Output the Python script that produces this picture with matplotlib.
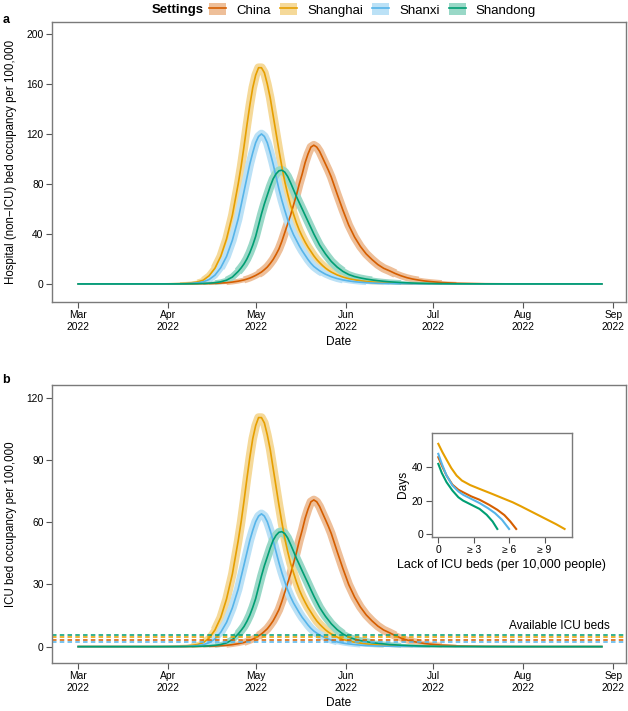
import numpy as np
import matplotlib.pyplot as plt
import matplotlib.dates as mdates
from matplotlib.lines import Line2D
from matplotlib.patches import Patch

plt.rcParams['font.family'] = ['Liberation Sans', 'DejaVu Sans']

# days after 1 Mar 2022
days = [0, 10, 20, 25, 29,
        31, 33, 35, 37, 39, 41, 43, 45, 47, 49, 51, 53, 55,
        56, 57, 58, 59, 60, 61, 62, 63, 64, 65,
        66, 67, 68, 69, 70, 71, 72, 73, 74, 75,
        76, 77, 78, 79, 80, 81, 82, 83, 84, 85, 86,
        87, 89, 91, 93, 95, 97, 99, 101, 103,
        105, 107, 109, 111, 113, 115, 117, 119, 121,
        125, 130, 140, 150, 160, 170, 180]

settings = ['China', 'Shanghai', 'Shanxi', 'Shandong']
colors = ['#D55E00', '#E69F00', '#56B4E9', '#009E73']
band_colors = ['#EEBF99', '#F5D999', '#BBE1F6', '#99D8C7']

# a: hospital (non-ICU) bed occupancy per 100,000
hosp_china = [0, 0, 0, 0, 0,
              0.01, 0.02, 0.03, 0.05, 0.08, 0.12, 0.2, 0.3, 0.45, 0.7, 1.0, 1.5, 2.2,
              2.7, 3.2, 3.9, 4.7, 5.7, 6.8, 8.1, 9.5, 11.4, 13.5,
              16.3, 19.5, 23.5, 28, 34, 41, 48, 55, 63, 71,
              80, 88, 97, 104, 109.5, 111, 109.5, 106, 101, 96, 91,
              85.5, 72, 59, 47, 37.5, 30, 24, 19.5, 15.5,
              12.5, 10.5, 8.3, 6.5, 5.0, 3.9, 3.1, 2.4, 1.9,
              1.1, 0.55, 0.15, 0.04, 0, 0, 0]
hosp_shanghai = [0, 0, 0, 0, 0.05,
                 0.1, 0.2, 0.3, 0.5, 0.9, 1.6, 3.0, 6.5, 12.5, 22, 36, 55, 80,
                 94, 110, 127, 143, 157, 167, 173, 173, 169, 160,
                 149, 135, 121, 107, 94, 82, 72, 63, 56, 49,
                 43, 38, 33.5, 29.5, 26, 22.5, 19.5, 17, 14.7, 12.7, 11,
                 9.5, 7.2, 5.5, 4.2, 3.3, 2.6, 2.0, 1.6, 1.25,
                 1.0, 0.8, 0.6, 0.5, 0.4, 0.3, 0.25, 0.2, 0.15,
                 0.1, 0.05, 0, 0, 0, 0, 0]
hosp_shanxi = [0, 0, 0, 0, 0.03,
               0.06, 0.1, 0.17, 0.28, 0.5, 0.9, 1.7, 3.5, 7, 13, 22, 35, 52,
               63, 74, 85, 96, 105, 113, 118, 120, 118, 113,
               105, 96, 86, 76, 67, 59, 51.5, 45, 39.5, 35,
               30.5, 26.5, 23, 19.5, 16.5, 14, 12.2, 10.5, 9.1, 7.8, 6.8,
               5.8, 4.3, 3.2, 2.4, 1.8, 1.35, 1.0, 0.75, 0.55,
               0.42, 0.32, 0.24, 0.18, 0.14, 0.1, 0.08, 0.06, 0.05,
               0.03, 0.02, 0, 0, 0, 0, 0]
hosp_shandong = [0, 0, 0, 0, 0,
                 0.01, 0.02, 0.04, 0.07, 0.12, 0.2, 0.35, 0.6, 1.0, 1.7, 3.0, 5.5, 10,
                 12.8, 16, 20, 25, 31, 38, 47, 56, 64, 71,
                 78, 84, 88, 90.5, 91, 89.5, 86, 81, 75.5, 70,
                 65, 60, 55, 50, 45, 40, 35.5, 31, 27.5, 24, 21,
                 18, 13.5, 10, 7.5, 5.9, 4.8, 3.9, 3.2, 2.6,
                 2.1, 1.7, 1.4, 1.1, 0.9, 0.7, 0.55, 0.45, 0.35,
                 0.22, 0.12, 0.04, 0, 0, 0, 0]

# b: ICU bed occupancy per 100,000
icu_china = [0, 0, 0, 0, 0,
             0.01, 0.01, 0.02, 0.03, 0.05, 0.08, 0.13, 0.19, 0.29, 0.45, 0.64, 0.96, 1.4,
             1.7, 2.0, 2.5, 3.0, 3.6, 4.3, 5.2, 6.1, 7.3, 8.6,
             10.4, 12.4, 15, 17.8, 21.7, 26.1, 30.6, 35, 40.1, 45.2,
             51, 56.1, 61.8, 66.2, 69.8, 70.7, 69.8, 67.5, 64.3, 61.2, 58,
             54.5, 45.9, 37.6, 29.9, 23.9, 19.1, 15.3, 12.4, 9.9,
             8.0, 6.7, 5.3, 4.1, 3.2, 2.5, 2.0, 1.5, 1.2,
             0.7, 0.35, 0.1, 0.03, 0, 0, 0]
icu_shanghai = [0, 0, 0, 0, 0.03,
                0.06, 0.13, 0.19, 0.3, 0.6, 1.0, 1.9, 4.1, 8.0, 14, 23, 35, 51,
                60, 70.2, 81, 91.2, 100.2, 106.5, 110.4, 110.4, 107.8, 102.1,
                95.1, 86.1, 77.2, 68.3, 60, 52.3, 45.9, 40.2, 35.7, 31.3,
                27.4, 24.2, 21.4, 18.8, 16.6, 14.4, 12.4, 10.8, 9.4, 8.1, 7.0,
                6.1, 4.6, 3.5, 2.7, 2.1, 1.7, 1.3, 1.0, 0.8,
                0.64, 0.5, 0.38, 0.32, 0.26, 0.19, 0.16, 0.13, 0.1,
                0.06, 0.03, 0, 0, 0, 0, 0]
icu_shanxi = [0, 0, 0, 0, 0.02,
              0.03, 0.05, 0.09, 0.15, 0.27, 0.5, 0.9, 1.9, 3.7, 6.9, 11.7, 18.7, 27.7,
              33.6, 39.4, 45.3, 51.2, 56, 60.2, 62.9, 64, 62.9, 60.2,
              56, 51.2, 45.8, 40.5, 35.7, 31.4, 27.4, 24, 21.1, 18.7,
              16.3, 14.1, 12.3, 10.4, 8.8, 7.5, 6.5, 5.6, 4.9, 4.2, 3.6,
              3.1, 2.3, 1.7, 1.3, 1.0, 0.72, 0.53, 0.4, 0.29,
              0.22, 0.17, 0.13, 0.1, 0.07, 0.05, 0.04, 0.03, 0.03,
              0.02, 0.01, 0, 0, 0, 0, 0]
icu_shandong = [0, 0, 0, 0, 0,
                0.01, 0.01, 0.02, 0.04, 0.07, 0.12, 0.21, 0.37, 0.6, 1.0, 1.8, 3.3, 6.1,
                7.8, 9.7, 12.2, 15.2, 18.9, 23.1, 28.6, 34.1, 39, 43.2,
                47.5, 51.2, 53.6, 55.1, 55.4, 54.5, 52.4, 49.3, 46, 42.6,
                39.6, 36.5, 33.5, 30.5, 27.4, 24.4, 21.6, 18.9, 16.7, 14.6, 12.8,
                11.0, 8.2, 6.1, 4.6, 3.6, 2.9, 2.4, 1.9, 1.6,
                1.3, 1.0, 0.85, 0.67, 0.55, 0.43, 0.33, 0.27, 0.21,
                0.13, 0.07, 0.02, 0, 0, 0, 0]

# available ICU beds per 100,000
icu_beds = [3.3, 4.5, 2.2, 5.6]

# inset: days vs lack of ICU beds (per 10,000 people)
lack_china = [0, 0.3, 0.7, 1.2, 1.7, 2.1, 2.8, 3.5, 4.3, 5.0, 5.6, 6.1, 6.6]
days_china = [46, 41, 35, 29.5, 26.5, 25, 22.5, 20.5, 17.5, 14.5, 11.3, 7.5, 3]
lack_shanghai = [0, 0.35, 0.7, 1.1, 1.55, 2.0, 2.7, 3.5, 4.5, 5.5, 6.3, 7.0, 8.0, 9.0, 10.0, 10.7]
days_shanghai = [54, 49, 44.5, 39.5, 35, 32, 29.3, 27, 24.2, 21.3, 19, 16.6, 13, 9.4, 5.8, 3]
lack_shanxi = [0, 0.3, 0.7, 1.2, 1.7, 2.1, 2.8, 3.5, 4.2, 4.8, 5.4, 6.0]
days_shanxi = [48, 42, 35, 29, 25.5, 23.5, 21, 18.5, 15.5, 12.5, 8.5, 3]
lack_shandong = [0, 0.3, 0.7, 1.2, 1.7, 2.1, 2.8, 3.5, 4.1, 4.6, 5.0]
days_shandong = [42, 36.5, 31, 26, 22, 20, 17.5, 15, 11.5, 7.5, 3]

start = np.datetime64('2022-03-01')
dates = start + np.array(days, dtype='timedelta64[D]')
x0 = mdates.date2num(start)

fig = plt.figure(figsize=(6.28, 7.11), dpi=100)
ax_a = fig.add_axes([0.0828, 0.5757, 0.914, 0.3934])
ax_b = fig.add_axes([0.0828, 0.0675, 0.914, 0.391])


def style_axes(ax):
    for s in ax.spines.values():
        s.set_color('#7a7a7a')
        s.set_linewidth(1.0)
    ax.tick_params(direction='out', length=4, width=0.8, color='#555555',
                   labelsize=7.4, pad=2)


def draw_panel(ax, series, unit, ylim, yticks, ylabel):
    # uncertainty band: light stroke that narrows towards zero
    for vals, bc in zip(series, band_colors):
        v = np.array(vals, dtype=float)
        for thr, w in [(0.3, 2.0), (1.0, 3.5), (3.0, 5.0), (8.0, 6.2)]:
            ax.plot(dates, np.ma.masked_less(v, thr * unit), color=bc, lw=w,
                    solid_capstyle='butt', solid_joinstyle='round')
    for vals, c in zip(series, colors):
        ax.plot(dates, vals, color=c, lw=1.2)
    ax.set_xlim(x0 - 9.0, x0 + 188.3)
    ax.set_ylim(*ylim)
    ax.set_yticks(yticks)
    ax.xaxis.set_major_locator(mdates.MonthLocator())
    ax.xaxis.set_major_formatter(mdates.DateFormatter('%b\n%Y'))
    ax.set_xlabel('Date', fontsize=8.6, labelpad=3)
    ax.set_ylabel(ylabel, fontsize=8.3, labelpad=7)
    style_axes(ax)


draw_panel(ax_a, [hosp_china, hosp_shanghai, hosp_shanxi, hosp_shandong], 1.0,
           (-14.2, 209.6), [0, 40, 80, 120, 160, 200],
           'Hospital (non\u2212ICU) bed occupancy per 100,000')
draw_panel(ax_b, [icu_china, icu_shanghai, icu_shanxi, icu_shandong], 0.6,
           (-7.9, 126.1), [0, 30, 60, 90, 120],
           'ICU bed occupancy per 100,000')

for b, c in zip(icu_beds, colors):
    ax_b.axhline(b, color=c, lw=1.3, ls=(0, (2.5, 1.8)), alpha=0.85)
ax_b.text(0.972, 7.0, 'Available ICU beds', transform=ax_b.get_yaxis_transform(),
          ha='right', va='bottom', fontsize=8.6)

# inset
ax_in = fig.add_axes([0.6874, 0.2452, 0.2229, 0.1463])
for lx, dy, c in zip([lack_china, lack_shanghai, lack_shanxi, lack_shandong],
                     [days_china, days_shanghai, days_shanxi, days_shandong], colors):
    ax_in.plot(lx, dy, color=c, lw=1.5)
ax_in.set_xlim(-0.56, 11.3)
ax_in.set_ylim(-1.6, 60.7)
ax_in.set_yticks([0, 20, 40])
ax_in.set_xticks([0, 3, 6, 9])
ax_in.set_xticklabels(['0', '\u2265 3', '\u2265 6', '\u2265 9'])
ax_in.set_xlabel('Lack of ICU beds (per 10,000 people)', fontsize=9, labelpad=3)
ax_in.set_ylabel('Days', fontsize=8.6, labelpad=2)
style_axes(ax_in)

# panel letters
fig.text(0.004, 0.972, 'a', fontsize=9, fontweight='bold', va='center')
fig.text(0.004, 0.465, 'b', fontsize=9, fontweight='bold', va='center')

# legend
handles = [(Patch(facecolor=bc, edgecolor='none'), Line2D([], [], color=c, lw=1.2))
           for c, bc in zip(colors, band_colors)]
fig.text(0.324, 0.986, 'Settings', fontsize=9.5, fontweight='bold', ha='right', va='center')
fig.legend(handles, settings, loc='center left', bbox_to_anchor=(0.333, 0.986),
           ncol=4, frameon=False, fontsize=9.5, handlelength=1.3, handleheight=1.0,
           handletextpad=0.75, columnspacing=0.7, borderaxespad=0, borderpad=0)

fig.savefig('out.png', dpi=100)
